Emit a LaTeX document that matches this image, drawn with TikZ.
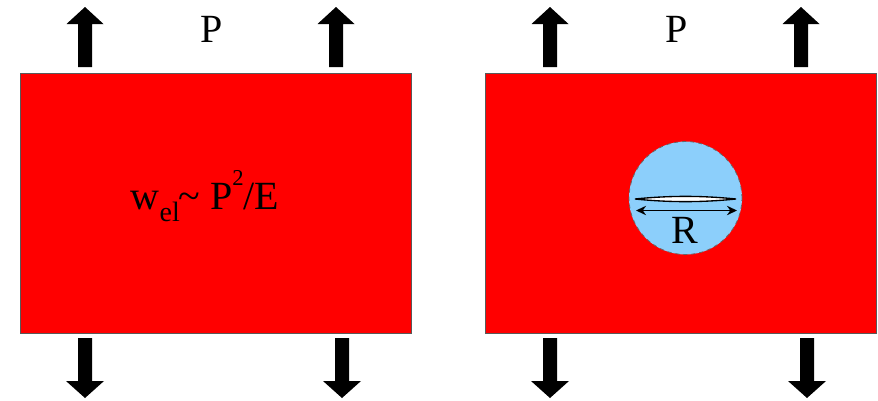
\documentclass[tikz,border=0pt]{standalone}
\usepackage{fontspec}
\setmainfont{Liberation Serif}
\usepackage{tikz}
\usetikzlibrary{arrows.meta}
\definecolor{zone}{HTML}{8CCFFB}

\begin{document}
\begin{tikzpicture}[x=0.75pt, y=-0.75pt,
    plate/.style={fill=red, draw=black!65, line width=0.6pt},
    pull/.style={fill=black},
    label/.style={font=\fontsize{30}{32}\selectfont, inner sep=0pt},
    zonebox/.style={circle, fill=zone, draw=black!60, dashed, line width=0.6pt,
      minimum size=84.75pt, inner sep=0pt}]
  \useasboundingbox (0,0) rectangle (878,400);
  % two plates pulled by the load P
  \foreach \x/\i in {0/A, 465/B} {
    \begin{scope}[xshift=\x*0.75pt]
      \draw[plate] (20,73) rectangle (411,333);
      \node[label] (load\i) at (212,29) {P};
      \foreach \t/\b in {85/85, 336/342} {
        \fill[pull] (\t-7,67) -- (\t-7,24) -- (\t-18.5,24) -- (\t,7)
          -- (\t+18.5,24) -- (\t+7,24) -- (\t+7,67) -- cycle;
        \fill[pull] (\b-7,338) -- (\b-7,381) -- (\b-19,381) -- (\b,398)
          -- (\b+19,381) -- (\b+7,381) -- (\b+7,338) -- cycle;
      }
    \end{scope}
  }
  % elastic energy
  \node[label] (energy) at (205,196)
    {w\raisebox{-0.3em}{\fontsize{21}{21}\selectfont el}\kern-1pt\textasciitilde{}
     P\raisebox{0.6em}{\fontsize{17}{17}\selectfont 2}/E};
  % relaxed zone round the crack
  \node[zonebox] (hole) at (685.5,198) {};
  \coordinate (tipL) at (635,199);
  \coordinate (tipR) at (736,199);
  \draw[fill=white, line width=1pt] (tipL) .. controls (670,195.5) and (701,195.5)
    .. (tipR) .. controls (701,202.5) and (670,202.5) .. (tipL) -- cycle;
  \coordinate (spanL) at (636,210.5);
  \coordinate (spanR) at (737,210.5);
  \draw[{Stealth[length=7.5pt,width=7pt]}-{Stealth[length=7.5pt,width=7pt]}, line width=1.4pt]
    (spanL) -- (spanR);
  \node[label] (radius) at (685,230) {R};
\end{tikzpicture}
\end{document}
